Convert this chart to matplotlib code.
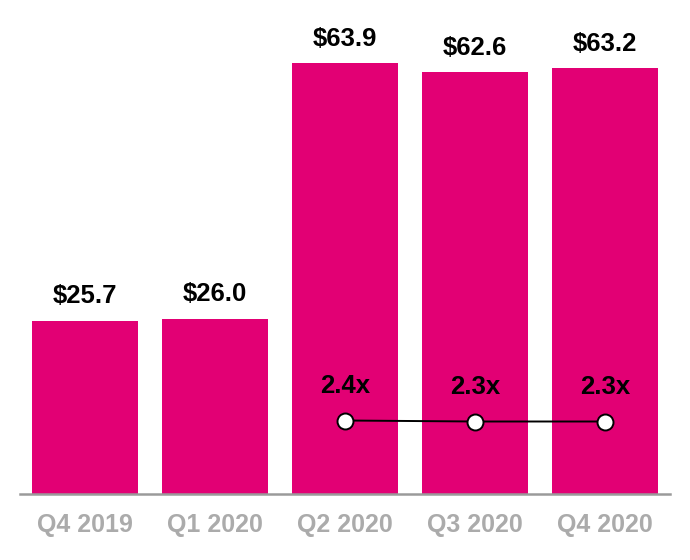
import matplotlib.pyplot as plt

quarters = ["Q4 2019", "Q1 2020", "Q2 2020", "Q3 2020", "Q4 2020"]
revenue = [25.7, 26.0, 63.9, 62.6, 63.2]
ratio_quarters = ["Q2 2020", "Q3 2020", "Q4 2020"]
ratio = [2.4, 2.3, 2.3]

plt.rcParams["font.family"] = ["Liberation Sans", "DejaVu Sans"]
magenta = "#E20074"

fig = plt.figure(figsize=(6.9, 5.6), dpi=100)
ax = fig.add_axes([20 / 690, 66 / 560, 650 / 690, 471.8 / 560])

x = list(range(len(quarters)))
bars = ax.bar(x, revenue, width=0.815, color=magenta, zorder=2)
for xi, v in zip(x, revenue):
    ax.annotate(f"${v:.1f}", (xi, v), xytext=(0, 17.5), textcoords="offset points",
                ha="center", va="center", fontsize=18.5, fontweight="bold", color="black")

ax.set_xlim(-0.5, len(quarters) - 0.5)
ax.set_ylim(0, 70)
ax.set_xticks(x)
ax.set_xticklabels(quarters, fontsize=18, fontweight="bold", color="#ABABAB")
ax.tick_params(axis="x", length=0, pad=14)
ax.set_yticks([])
for side in ["top", "left", "right"]:
    ax.spines[side].set_visible(False)
ax.spines["bottom"].set_color("#9A9A9A")
ax.spines["bottom"].set_linewidth(1.8)

# leverage ratio on its own axis
ax2 = ax.twinx()
ax2.set_ylim(-4.95, 42.23)
rx = [quarters.index(q) for q in ratio_quarters]
ax2.plot(rx, ratio, color="black", lw=1.4, marker="o", ms=11.5,
         mfc="white", mec="black", mew=1.4, zorder=3)
for xi, v in zip(rx, ratio):
    ax2.annotate(f"{v:.1f}x", (xi, v), xytext=(0, 25), textcoords="offset points",
                 ha="center", va="center", fontsize=18.5, fontweight="bold", color="black")
ax2.set_yticks([])
for side in ["top", "left", "right", "bottom"]:
    ax2.spines[side].set_visible(False)

fig.savefig("out.png", dpi=100)
